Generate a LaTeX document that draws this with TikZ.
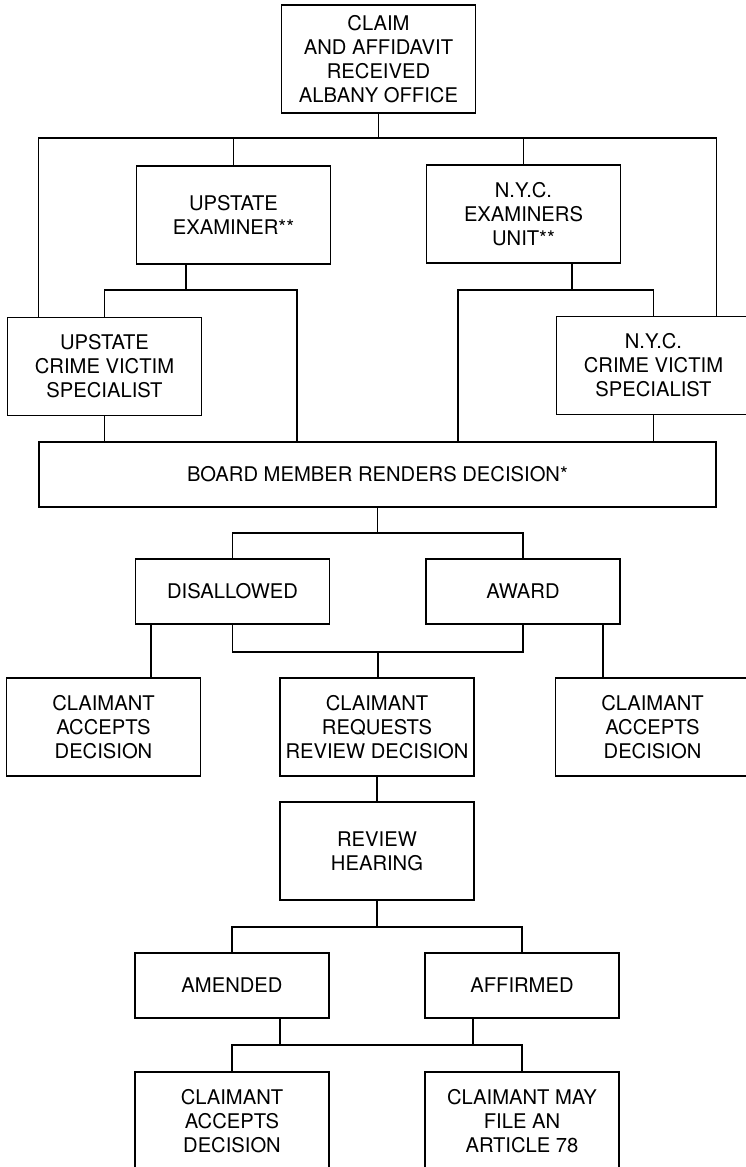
\documentclass[tikz,border=0pt]{standalone}
\usepackage{fontspec}
\setmainfont{TeX Gyre Heros}
\begin{document}
\begin{tikzpicture}[x=0.02cm,y=-0.02cm,line width=0.8pt,
    box/.style={draw,align=center,inner sep=0pt,minimum width=3.88cm,font=\fontsize{11.5}{13.7}\selectfont},
    tall/.style={box,minimum height=1.96cm},
    flat/.style={box,minimum height=1.3cm}]
    \useasboundingbox (0,0) rectangle (746,1167);
    \fill[white] (0,0) rectangle (746,1167);
    \node[box,minimum height=2.16cm] (claim) at (378.5,59) {CLAIM\\AND AFFIDAVIT\\RECEIVED\\ALBANY OFFICE};
    \node[tall] (upex) at (233.5,215) {UPSTATE\\EXAMINER**};
    \node[tall] (nycex) at (523.5,214) {N.Y.C.\\EXAMINERS\\UNIT**};
    \node[tall] (upcvs) at (104.5,366.5) {UPSTATE\\CRIME VICTIM\\SPECIALIST};
    \node[tall] (nycvs) at (653.5,365.5) {N.Y.C.\\CRIME VICTIM\\SPECIALIST};
    \node[flat,minimum width=13.54cm] (board) at (377.5,474.5) {BOARD MEMBER RENDERS DECISION*};
    \node[flat] (disal) at (232.5,591.5) {DISALLOWED};
    \node[flat] (award) at (523,591.5) {AWARD};
    \node[tall] (accL) at (103.5,727) {CLAIMANT\\ACCEPTS\\DECISION};
    \node[tall] (request) at (377,727) {CLAIMANT\\REQUESTS\\REVIEW DECISION};
    \node[tall] (accR) at (652.5,727) {CLAIMANT\\ACCEPTS\\DECISION};
    \node[tall] (review) at (377,851) {REVIEW\\HEARING};
    \node[flat] (amend) at (232,985.5) {AMENDED};
    \node[flat] (affirm) at (522,985.5) {AFFIRMED};
    \node[tall] (accB) at (232,1121) {CLAIMANT\\ACCEPTS\\DECISION};
    \node[tall] (art78) at (522,1121) {CLAIMANT MAY\\FILE AN\\ARTICLE 78};
    \coordinate (j1) at (378,138);
    \coordinate (j2) at (186,290);
    \coordinate (j2r) at (297,290);
    \coordinate (j3) at (572,290);
    \coordinate (j3l) at (458,290);
    \coordinate (j4) at (378,533);
    \coordinate (j5) at (378,652);
    \coordinate (j5l) at (151,652);
    \coordinate (j5r) at (603,652);
    \coordinate (j6) at (377,927);
    \coordinate (j7l) at (280,1045);
    \coordinate (j7r) at (473,1045);
    \draw (claim.south) -- (claim.south |- j1);
    \draw (board.west |- upcvs.north) |- (j1) -| (board.east |- nycvs.north);
    \draw (upex.north) -- (upex.north |- j1);
    \draw (nycex.north) -- (nycex.north |- j1);
    \draw (upex.south -| j2) -- (j2);
    \draw (upcvs.north) |- (j2r) -- (j2r |- board.north);
    \draw (nycex.south -| j3) -- (j3);
    \draw (board.north -| j3l) -- (j3l) -| (nycvs.north);
    \draw (upcvs.south) -- (upcvs.south |- board.north);
    \draw (nycvs.south) -- (nycvs.south |- board.north);
    \draw (board.south) -- (board.south |- j4);
    \draw (disal.north) |- (j4) -| (award.north);
    \draw (disal.south) |- (j5) -| (award.south);
    \draw (j5) -- (j5 |- request.north);
    \draw (disal.south -| j5l) -- (j5l |- accL.north);
    \draw (award.south -| j5r) -- (j5r |- accR.north);
    \draw (request) -- (review);
    \draw (review.south) -- (j6);
    \draw (amend.north) |- (j6) -| (affirm.north);
    \draw (amend.south -| j7l) -- (j7l);
    \draw (affirm.south -| j7r) -- (j7r);
    \draw (accB.north) |- (j7l) -| (art78.north);
\end{tikzpicture}
\end{document}
